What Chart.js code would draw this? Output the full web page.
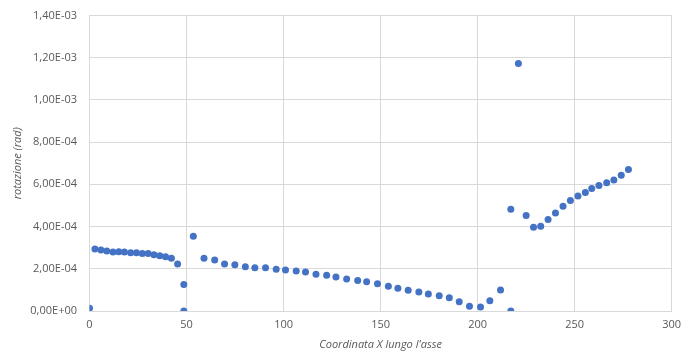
<!DOCTYPE html>
<html>
<head>
<meta charset="utf-8">
<script src="https://cdn.jsdelivr.net/npm/chart.js@4.4.1/dist/chart.umd.min.js"></script>
<style>
  html, body { margin: 0; padding: 0; background: #ffffff; }
  #wrap { width: 683px; height: 354px; position: relative; }
</style>
</head>
<body>
<div id="wrap"><canvas id="c" width="683" height="354"></canvas></div>
<script>
// Coordinate lungo l'asse (m) e rotazioni (rad)
const coordX = [
  0, 2.8, 5.9, 8.9, 12.1, 15.1, 18.0, 21.2, 24.2, 27.2, 30.2, 33.2, 36.2, 39.2, 42.2, 45.4, 48.6, 48.6,
  53.5, 59.0, 64.5, 69.6, 74.9, 80.3, 85.2, 90.7, 96.2, 101.0, 106.5, 111.3, 116.7, 122.2, 127.0,
  132.5, 138.2, 142.8, 148.4, 154.0, 158.9, 164.2, 169.7, 174.6, 180.2, 185.4, 190.5, 195.8,
  201.5, 206.3, 211.8, 217.1, 217.1, 221.0, 225.0, 228.8, 232.5, 236.3, 240.1, 244.0, 247.8,
  251.7, 255.5, 258.8, 262.5, 266.5, 270.2, 274.0, 277.7
];
const rotazione = [
  1.3e-5, 2.94e-4, 2.89e-4, 2.84e-4, 2.80e-4, 2.81e-4, 2.80e-4, 2.76e-4, 2.76e-4, 2.72e-4, 2.72e-4, 2.67e-4, 2.62e-4, 2.57e-4, 2.50e-4, 2.23e-4, 1.25e-4, 0,
  3.54e-4, 2.50e-4, 2.42e-4, 2.23e-4, 2.19e-4, 2.10e-4, 2.05e-4, 2.05e-4, 1.98e-4, 1.94e-4, 1.90e-4, 1.85e-4, 1.74e-4, 1.69e-4, 1.61e-4,
  1.52e-4, 1.44e-4, 1.39e-4, 1.29e-4, 1.17e-4, 1.08e-4, 0.98e-4, 0.90e-4, 0.81e-4, 0.72e-4, 0.63e-4, 0.44e-4, 0.22e-4,
  0.19e-4, 0.49e-4, 0.99e-4, 0, 4.82e-4, 1.172e-3, 4.52e-4, 3.97e-4, 4.01e-4, 4.33e-4, 4.64e-4, 4.96e-4, 5.23e-4,
  5.45e-4, 5.62e-4, 5.80e-4, 5.94e-4, 6.08e-4, 6.21e-4, 6.43e-4, 6.70e-4
];
const yMin = 0, yMax = 1.4e-3, yStep = 2e-4;
const xMin = 0, xMax = 300, xStep = 50;

const points = coordX.map((x, i) => ({ x: x, y: rotazione[i] }));

// Formato scientifico all'italiana: 1,40E-03
function formatoItaliano(v) {
  const s = Number(v).toExponential(2);
  const [mant, exp] = s.split('e');
  const e = parseInt(exp, 10);
  const segno = e < 0 ? '-' : '+';
  const cifre = String(Math.abs(e)).padStart(2, '0');
  return mant.replace('.', ',') + 'E' + segno + cifre;
}

// L'area del grafico è fissata dal layout, senza margini extra per le etichette
function azzeraMargini(s) {
  s.paddingLeft = 0; s.paddingRight = 0; s.paddingTop = 0; s.paddingBottom = 0;
}

const grigioTesto = '#595959';
const grigioGriglia = '#d9d9d9';
const font = { family: "'Open Sans', sans-serif", size: 11 };

new Chart(document.getElementById('c'), {
  type: 'scatter',
  data: {
    datasets: [{
      data: points,
      backgroundColor: '#4472C4',
      borderColor: '#4472C4',
      borderWidth: 0,
      pointRadius: 3.5,
      pointHoverRadius: 3.5
    }]
  },
  options: {
    responsive: false,
    animation: false,
    layout: { padding: { top: 15.5, right: 11.3, left: 0, bottom: 0 } },
    plugins: { legend: { display: false }, tooltip: { enabled: false } },
    scales: {
      x: {
        type: 'linear',
        min: xMin, max: xMax,
        afterFit: (s) => { s.height = 43; azzeraMargini(s); },
        ticks: { stepSize: xStep, color: grigioTesto, font: font, padding: 7, maxRotation: 0 },
        grid: { color: grigioGriglia, lineWidth: 1, drawTicks: false },
        border: { color: grigioGriglia, width: 1 },
        title: {
          display: true,
          text: "Coordinata X lungo l'asse",
          color: grigioTesto,
          font: { family: "'Open Sans', sans-serif", size: 11, style: 'italic' },
          padding: { top: 4, bottom: 2.4 }
        }
      },
      y: {
        type: 'linear',
        min: yMin, max: yMax,
        afterFit: (s) => { s.width = 89.5; azzeraMargini(s); },
        ticks: {
          stepSize: yStep, color: grigioTesto, font: font, padding: 12.5,
          callback: (v) => formatoItaliano(v)
        },
        grid: { color: grigioGriglia, lineWidth: 1, drawTicks: false },
        border: { color: grigioGriglia, width: 1 },
        title: {
          display: true,
          text: 'rotazione (rad)',
          color: grigioTesto,
          font: { family: "'Open Sans', sans-serif", size: 11, style: 'italic' },
          padding: { top: 11, bottom: 4 }
        }
      }
    }
  }
});
</script>
</body>
</html>
